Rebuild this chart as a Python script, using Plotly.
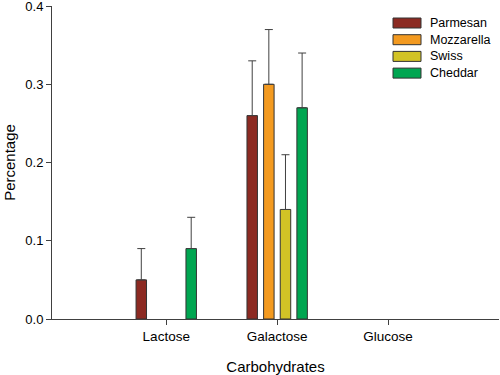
import plotly.graph_objects as go

categories = ["Lactose", "Galactose", "Glucose"]
series_names = ["Parmesan", "Mozzarella", "Swiss", "Cheddar"]
parmesan = [0.05, 0.26, None]
mozzarella = [None, 0.30, None]
swiss = [None, 0.14, None]
cheddar = [0.09, 0.27, None]
parmesan_err = [0.04, 0.07, None]
mozzarella_err = [None, 0.07, None]
swiss_err = [None, 0.07, None]
cheddar_err = [0.04, 0.07, None]
y_ticks = [0.0, 0.1, 0.2, 0.3, 0.4]

values = [parmesan, mozzarella, swiss, cheddar]
errors = [parmesan_err, mozzarella_err, swiss_err, cheddar_err]
colors = ["#8C2A22", "#F39A20", "#D2C326", "#00A651"]
axis_color = "#404040"
font_family = "Liberation Sans, Arial, sans-serif"

W, H = 500, 375
L, R, T, B = 52, 1, 6, 56
PW, PH = W - L - R, H - T - B

def px_to_paper(x, y):
    return (x - L) / PW, (H - B - y) / PH

fig = go.Figure()
for name, vals, errs, col in zip(series_names, values, errors, colors):
    fig.add_trace(go.Bar(
        name=name, x=categories, y=vals, marker=dict(color=col, line=dict(color="#333333", width=1)),
        error_y=dict(type="data", symmetric=False, array=errs, arrayminus=[0] * len(errs),
                     color="#404040", thickness=1, width=4),
        showlegend=False, hoverinfo="skip",
    ))

# manual legend (wide rectangular swatches)
leg_x0, leg_x1 = 393, 421
leg_y0 = 23
leg_dy = 16.7
for i, (name, col) in enumerate(zip(series_names, colors)):
    yc = leg_y0 + i * leg_dy
    x0, y0 = px_to_paper(leg_x0, yc + 5)
    x1, y1 = px_to_paper(leg_x1, yc - 5)
    fig.add_shape(type="rect", xref="paper", yref="paper", x0=x0, x1=x1, y0=y0, y1=y1,
                  fillcolor=col, line=dict(color="#333333", width=1))
    tx, ty = px_to_paper(428, yc)
    fig.add_annotation(xref="paper", yref="paper", x=tx, y=ty,
                       text=name, showarrow=False, xanchor="left", yanchor="middle",
                       font=dict(family=font_family, size=12.5, color="#000000"))

fig.update_layout(
    width=W, height=H,
    margin=dict(l=L, r=R, t=T, b=B, autoexpand=False),
    paper_bgcolor="white", plot_bgcolor="white",
    barmode="group", bargap=0.4, bargroupgap=0.37,
    font=dict(family=font_family, size=13, color="#000000"),
    xaxis=dict(
        type="category", categoryorder="array", categoryarray=categories,
        range=[-1.03, 3.0], showline=True, linecolor=axis_color, linewidth=1,
        ticks="outside", ticklen=5, tickcolor=axis_color, tickwidth=1,
        showgrid=False, zeroline=False, automargin=False,
        title=dict(text="Carbohydrates", font=dict(size=15), standoff=19),
        tickfont=dict(size=13.5),
    ),
    yaxis=dict(
        range=[0, 0.4001], tickvals=y_ticks, ticktext=[f"{v:.1f}" for v in y_ticks],
        showline=True, linecolor=axis_color, linewidth=1,
        ticks="outside", ticklen=5, tickcolor=axis_color, tickwidth=1,
        showgrid=False, zeroline=False, automargin=False, ticklabeloverflow="allow",
        title=dict(text="Percentage", font=dict(size=15), standoff=6),
        tickfont=dict(size=13),
    ),
)

fig.write_html("out.html", config={"displayModeBar": False},
               post_script="document.body.style.margin='0';document.body.style.overflow='hidden';")
